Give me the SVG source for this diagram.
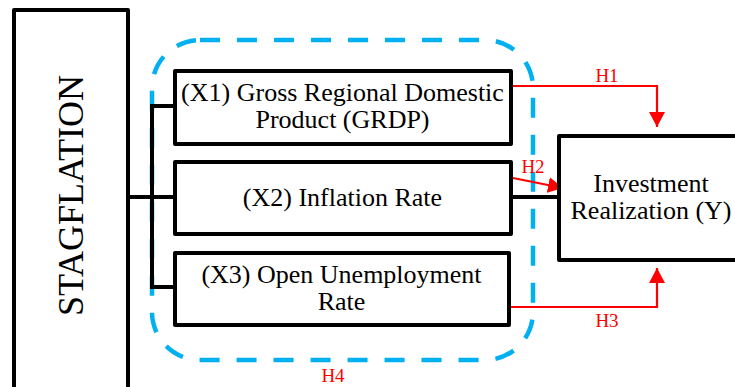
<svg xmlns="http://www.w3.org/2000/svg" width="735" height="387" viewBox="0 0 735 387">
<style>
.box{fill:#fff;stroke:#000;stroke-width:4;stroke-linejoin:round}
.t{font-family:"Liberation Serif","Times New Roman",serif;font-size:26px;fill:#000;text-anchor:middle}
.h{font-family:"Liberation Serif","Times New Roman",serif;font-size:19px;fill:#f00;text-anchor:middle}
.blk{fill:none;stroke:#000;stroke-width:4}
.red{fill:none;stroke:#f00;stroke-width:2.2;marker-end:url(#ah)}
</style>
<defs>
<marker id="ah" viewBox="0 0 15 16" refX="15" refY="8" markerWidth="15" markerHeight="16" markerUnits="userSpaceOnUse" orient="auto">
<path d="M0,0 L15,8 L0,16 Z" fill="#f00"/>
</marker>
</defs>
<rect width="735" height="387" fill="#fff"/>
<g id="h4group">
<rect x="152" y="40" width="381" height="320" rx="48" ry="48" fill="none" stroke="#00B0F0" stroke-width="4.5" stroke-dasharray="20 17"/>
<text class="h" x="333" y="382">H4</text>
</g>
<g id="connectors">
<path class="blk" d="M128,197 H175 M152,106 V287 M150,106 H175 M150,287 H175 M511,197 H559"/>
<path class="red" d="M513,86 H657 V127"/>
<path class="red" d="M513,178 L563,188"/>
<path class="red" d="M509,307 H657 V268"/>
<text class="h" x="607" y="82">H1</text>
<text class="h" x="533" y="173">H2</text>
<text class="h" x="607" y="327">H3</text>
</g>
<g id="stagflation">
<rect class="box" x="14" y="10" width="114" height="390"/>
<text class="t" style="font-size:36px" transform="translate(83,195.5) rotate(-90)">STAGFLATION</text>
</g>
<g id="x1">
<rect class="box" x="175" y="71" width="336" height="73"/>
<text class="t" x="342.5" y="101">(X1) Gross Regional Domestic</text>
<text class="t" x="342.5" y="128">Product (GRDP)</text>
</g>
<g id="x2">
<rect class="box" x="175" y="162" width="336" height="72"/>
<text class="t" x="342.5" y="206">(X2) Inflation Rate</text>
</g>
<g id="x3">
<rect class="box" x="175" y="253" width="334" height="72"/>
<text class="t" x="341.5" y="283">(X3) Open Unemployment</text>
<text class="t" x="341.5" y="310">Rate</text>
</g>
<g id="investment">
<rect class="box" x="559" y="136" width="200" height="124"/>
<text class="t" x="651" y="192">Investment</text>
<text class="t" x="651" y="219">Realization (Y)</text>
</g>
</svg>
